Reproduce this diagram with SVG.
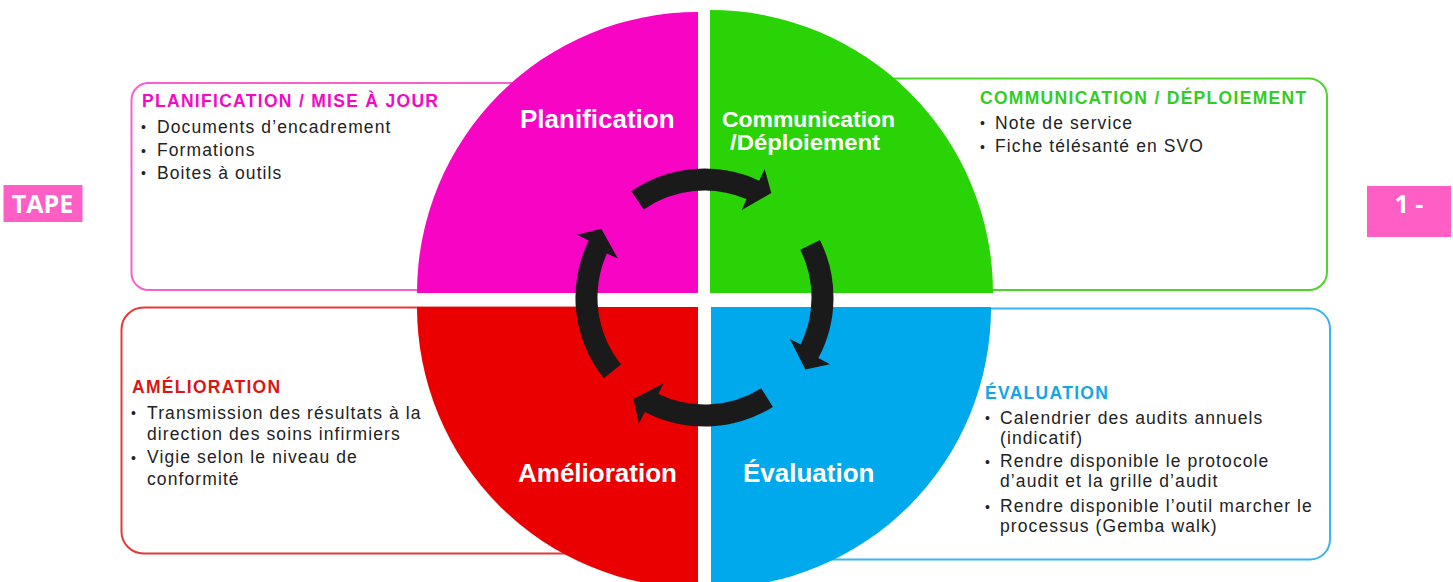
<svg xmlns="http://www.w3.org/2000/svg" width="1453" height="582" viewBox="0 0 1453 582">
<style>
.hdr{font-family:"Liberation Sans",Arial,sans-serif;font-weight:bold;font-size:17.5px;letter-spacing:1.3px}
.txt{font-family:"Liberation Sans",Arial,sans-serif;font-size:17.5px;letter-spacing:1.1px;fill:#222}
.bul{font-family:"Liberation Sans",Arial,sans-serif;font-size:14px;fill:#222}
.ql{font-family:"Liberation Sans",Arial,sans-serif;font-weight:bold;font-size:26px;fill:#fff}
.ql2{font-family:"Liberation Sans",Arial,sans-serif;font-weight:bold;font-size:22.5px;fill:#fff}
.tag{font-family:"Open Sans",sans-serif;font-weight:bold;font-size:25px;fill:#fff;text-anchor:middle}
.box{fill:#fff;stroke-width:2}
.arr{fill:#1a1a1a}
</style>
<rect width="1453" height="582" fill="#fff"/>
<g id="tag-tape"><rect x="3.5" y="185" width="79" height="37" fill="#ff5ec4"/><text class="tag" x="42.5" y="213">TAPE</text></g>
<g id="tag-1"><rect x="1367" y="186" width="84" height="51" fill="#ff5ec4"/><text class="tag" x="1409" y="213">1 -</text></g>
<g id="box-planification">
<rect class="box" x="131.5" y="83" width="470" height="207" rx="17" stroke="#f560d2"/>
<text class="hdr" x="142" y="107" fill="#f20ac4">PLANIFICATION / MISE À JOUR</text>
<text class="bul" x="141" y="132">•</text><text class="txt" x="157" y="132.5">Documents d’encadrement</text>
<text class="bul" x="141" y="155.5">•</text><text class="txt" x="157" y="156">Formations</text>
<text class="bul" x="141" y="178">•</text><text class="txt" x="157" y="178.5">Boites à outils</text>
</g>
<g id="box-communication">
<rect class="box" x="800" y="78.5" width="527" height="211.5" rx="18" stroke="#4cd62c"/>
<text class="hdr" x="980" y="103.5" fill="#33cc22">COMMUNICATION / DÉPLOIEMENT</text>
<text class="bul" x="980" y="128">•</text><text class="txt" x="995" y="128.5">Note de service</text>
<text class="bul" x="980" y="151.5">•</text><text class="txt" x="995" y="152">Fiche télésanté en SVO</text>
</g>
<g id="box-amelioration">
<rect class="box" x="121.5" y="307.5" width="480" height="246" rx="22" stroke="#e23a3a"/>
<text class="hdr" x="132" y="393" fill="#dd1515">AMÉLIORATION</text>
<text class="bul" x="131" y="418">•</text><text class="txt" x="147" y="418.5">Transmission des résultats à la</text>
<text class="txt" x="147" y="439.5">direction des soins infirmiers</text>
<text class="bul" x="131" y="462.5">•</text><text class="txt" x="147" y="463">Vigie selon le niveau de</text>
<text class="txt" x="147" y="484.5">conformité</text>
</g>
<g id="box-evaluation">
<rect class="box" x="800" y="308.5" width="530" height="251" rx="20" stroke="#3ab4ee"/>
<text class="hdr" x="985" y="398.5" fill="#12a6e6">ÉVALUATION</text>
<text class="bul" x="985" y="423">•</text><text class="txt" x="1000" y="423.5">Calendrier des audits annuels</text>
<text class="txt" x="1000" y="443.5">(indicatif)</text>
<text class="bul" x="985" y="466.5">•</text><text class="txt" x="1000" y="467">Rendre disponible le protocole</text>
<text class="txt" x="1000" y="487">d’audit et la grille d’audit</text>
<text class="bul" x="985" y="511.5">•</text><text class="txt" x="1000" y="512">Rendre disponible l’outil marcher le</text>
<text class="txt" x="1000" y="532">processus (Gemba walk)</text>
</g>
<g id="quadrant-planification"><path d="M698 293 L698 12 A281 281 0 0 0 417 293 Z" fill="#f704c4"/><text class="ql" x="520" y="128">Planification</text></g>
<g id="quadrant-communication"><path d="M710 293 L993 293 A283 283 0 0 0 710 10 Z" fill="#2ad305"/><text class="ql2" x="722" y="126.5" textLength="173" lengthAdjust="spacingAndGlyphs">Communication</text><text class="ql2" x="730" y="150" textLength="150" lengthAdjust="spacingAndGlyphs">/Déploiement</text></g>
<g id="quadrant-amelioration"><path d="M698 307 L417 307 A281 281 0 0 0 698 588 Z" fill="#ea0000"/><text class="ql" x="518" y="482">Amélioration</text></g>
<g id="quadrant-evaluation"><path d="M711 307 L711 588 A280 280 0 0 0 991 307 Z" fill="#00a8ec"/><text class="ql" x="743" y="482">Évaluation</text></g>
<g id="connectors">
<path class="arr" d="M631.3 191.3 A129 129 0 0 1 759.2 180.7 L764.7 168.9 L771.3 193 L741.8 210.1 L746.5 199.1 A107 107 0 0 0 643.7 209.4 Z"/>
<path class="arr" d="M819.9 239.9 A129 129 0 0 1 818.4 358.1 L829.9 364.2 L805.4 369.5 L789.9 339.1 L800.7 344.4 A107 107 0 0 0 800.3 249.8 Z"/>
<path class="arr" d="M772.9 406.9 A129 129 0 0 1 644.9 411.9 L638.9 423.5 L633.4 399.1 L663.6 383.2 L658.4 394.1 A107 107 0 0 0 761.2 388.2 Z"/>
<path class="arr" d="M603.8 378.2 A129 129 0 0 1 588.7 240.5 L577.1 234.8 L601.3 228.7 L617.9 258.6 L606.9 253.6 A107 107 0 0 0 621 364.4 Z"/>
</g>
</svg>
